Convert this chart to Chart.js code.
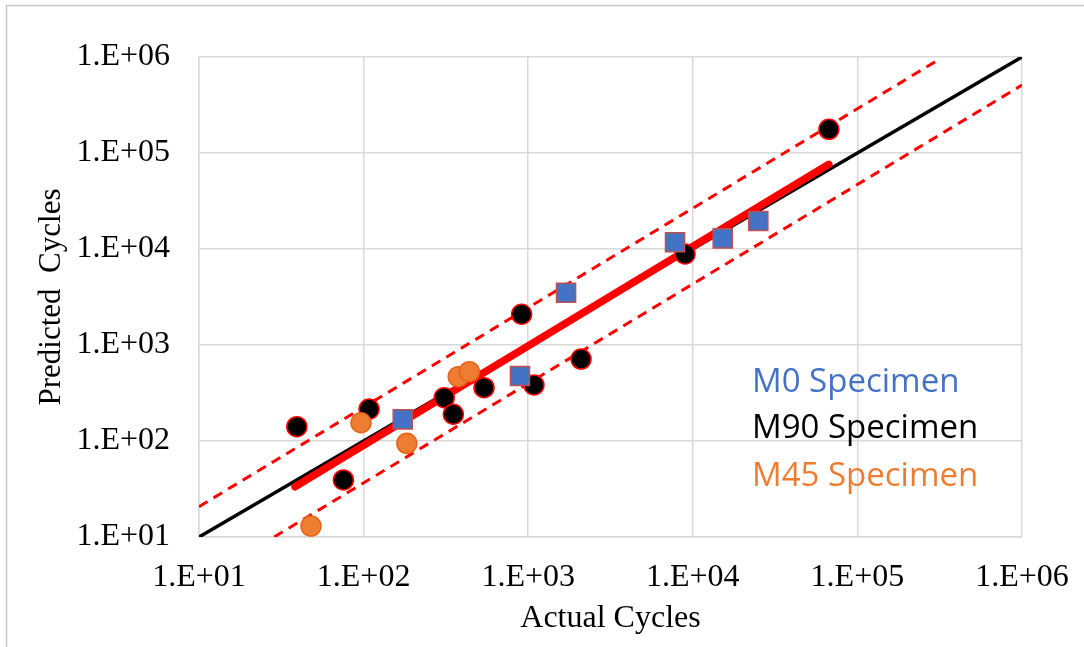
<!DOCTYPE html>
<html>
<head>
<meta charset="utf-8">
<script src="https://cdn.jsdelivr.net/npm/chart.js@4/dist/chart.umd.min.js"></script>
<style>
  html, body { margin: 0; padding: 0; background: #fff; }
  #wrap { position: relative; width: 1084px; height: 647px; }
</style>
</head>
<body>
<div id="wrap"><canvas id="c" width="1084" height="647"></canvas></div>
<script>
// ---- data ----
const tickValues = [1e1, 1e2, 1e3, 1e4, 1e5, 1e6];
const tickLabels = ['1.E+01', '1.E+02', '1.E+03', '1.E+04', '1.E+05', '1.E+06'];

const m0Actual    = [173, 891, 1698, 7800, 15200, 25000];
const m0Predicted = [168, 475, 3508, 11750, 12900, 19600];

const m90Actual    = [39.3, 108, 75.4, 309, 351, 539, 1084, 2094, 912, 8970, 67100];
const m90Predicted = [141, 215, 39.3, 283, 190, 359, 383, 714, 2090, 8870, 176600];

const m45Actual    = [47.9, 96.4, 183, 376, 439];
const m45Predicted = [13.0, 155, 94.6, 468, 527];

const identityX = [10, 1e6];
const identityY = [10, 1e6];
const fitX = [38.3, 67100];
const fitY = [33.4, 76200];
const upperX = [10, 309000];
const upperY = [20.7, 930000];
const lowerX = [28.6, 1e6];
const lowerY = [10, 510000];

const legendLabels = ['M0 Specimen', 'M90 Specimen', 'M45 Specimen'];
const legendColors = ['#4472C4', '#000000', '#ED7D31'];

const pts = (xs, ys) => xs.map((x, i) => ({ x: x, y: ys[i] }));

const textLegend = {
  id: 'textLegend',
  beforeDraw(chart) {
    const ctx = chart.ctx;
    ctx.save();
    ctx.strokeStyle = '#c8c8c8';
    ctx.lineWidth = 1.5;
    ctx.beginPath();
    ctx.moveTo(6.5, 647);
    ctx.lineTo(6.5, 5.5);
    ctx.lineTo(1084, 5.5);
    ctx.stroke();
    ctx.restore();
  },
  afterDatasetsDraw(chart) {
    const ctx = chart.ctx;
    ctx.save();
    ctx.font = '33px "Open Sans"';
    ctx.textAlign = 'left';
    ctx.textBaseline = 'alphabetic';
    const baselines = [392, 438, 486];
    legendLabels.forEach((t, i) => {
      ctx.fillStyle = legendColors[i];
      ctx.fillText(t, 752, baselines[i]);
    });
    ctx.restore();
  }
};

const gridColor = '#d9d9d9';

new Chart(document.getElementById('c'), {
  type: 'scatter',
  data: {
    datasets: [
      {
        label: 'M0', data: pts(m0Actual, m0Predicted), order: 1,
        pointStyle: 'rect', pointRadius: 13.5, pointHoverRadius: 13.5,
        backgroundColor: '#4472C4', borderColor: '#C0504D', borderWidth: 1.5
      },
      {
        label: 'M45', data: pts(m45Actual, m45Predicted), order: 2,
        pointStyle: 'circle', pointRadius: 10, pointHoverRadius: 10,
        backgroundColor: '#ED7D31', borderColor: '#E8631A', borderWidth: 1.5
      },
      {
        label: 'M90', data: pts(m90Actual, m90Predicted), order: 3,
        pointStyle: 'circle', pointRadius: 10, pointHoverRadius: 10,
        backgroundColor: '#000000', borderColor: '#FF0000', borderWidth: 1.5
      },
      {
        label: 'fit', data: pts(fitX, fitY), order: 4, showLine: true,
        borderColor: '#FF0000', borderWidth: 7.5, borderCapStyle: 'round',
        pointRadius: 0, pointHoverRadius: 0
      },
      {
        label: 'upper', data: pts(upperX, upperY), order: 5, showLine: true,
        borderColor: '#FF0000', borderWidth: 3, borderDash: [10, 7],
        pointRadius: 0, pointHoverRadius: 0
      },
      {
        label: 'lower', data: pts(lowerX, lowerY), order: 6, showLine: true,
        borderColor: '#FF0000', borderWidth: 3, borderDash: [10, 7],
        pointRadius: 0, pointHoverRadius: 0
      },
      {
        label: '1:1', data: pts(identityX, identityY), order: 7, showLine: true,
        borderColor: '#000000', borderWidth: 3.5,
        pointRadius: 0, pointHoverRadius: 0
      }
    ]
  },
  options: {
    responsive: false,
    animation: false,
    events: [],
    layout: { padding: { left: 0, top: 57, right: 62, bottom: 0 } },
    plugins: { legend: { display: false }, tooltip: { enabled: false } },
    scales: {
      x: {
        type: 'logarithmic', position: 'bottom', min: 10, max: 1e6,
        afterBuildTicks: (s) => { s.ticks = tickValues.map(v => ({ value: v })); },
        afterFit: (s) => { s.height = 110; s.paddingLeft = 0; s.paddingRight = 0; },
        grid: { color: gridColor, lineWidth: 1.5, drawTicks: false },
        border: { color: gridColor, width: 1.5 },
        ticks: {
          padding: 21, color: '#000',
          font: { family: '"Liberation Serif"', size: 32 },
          callback: (v) => tickLabels[tickValues.indexOf(v)] ?? ''
        },
        title: {
          display: true, text: 'Actual Cycles', color: '#000',
          font: { family: '"Liberation Serif"', size: 32 },
          padding: { top: 0, bottom: 9 }
        }
      },
      y: {
        type: 'logarithmic', position: 'left', min: 10, max: 1e6,
        afterBuildTicks: (s) => { s.ticks = tickValues.map(v => ({ value: v })); },
        afterFit: (s) => { s.width = 199; s.paddingTop = 0; s.paddingBottom = 0; },
        grid: { color: gridColor, lineWidth: 1.5, drawTicks: false },
        border: { color: gridColor, width: 1.5 },
        ticks: {
          padding: 29, color: '#000',
          font: { family: '"Liberation Serif"', size: 32 },
          callback: (v) => tickLabels[tickValues.indexOf(v)] ?? ''
        },
        title: {
          display: true, text: 'Predicted  Cycles', color: '#000',
          font: { family: '"Liberation Serif"', size: 31 },
          padding: { top: 33, bottom: 0 }
        }
      }
    }
  },
  plugins: [textLegend]
});
</script>
</body>
</html>
